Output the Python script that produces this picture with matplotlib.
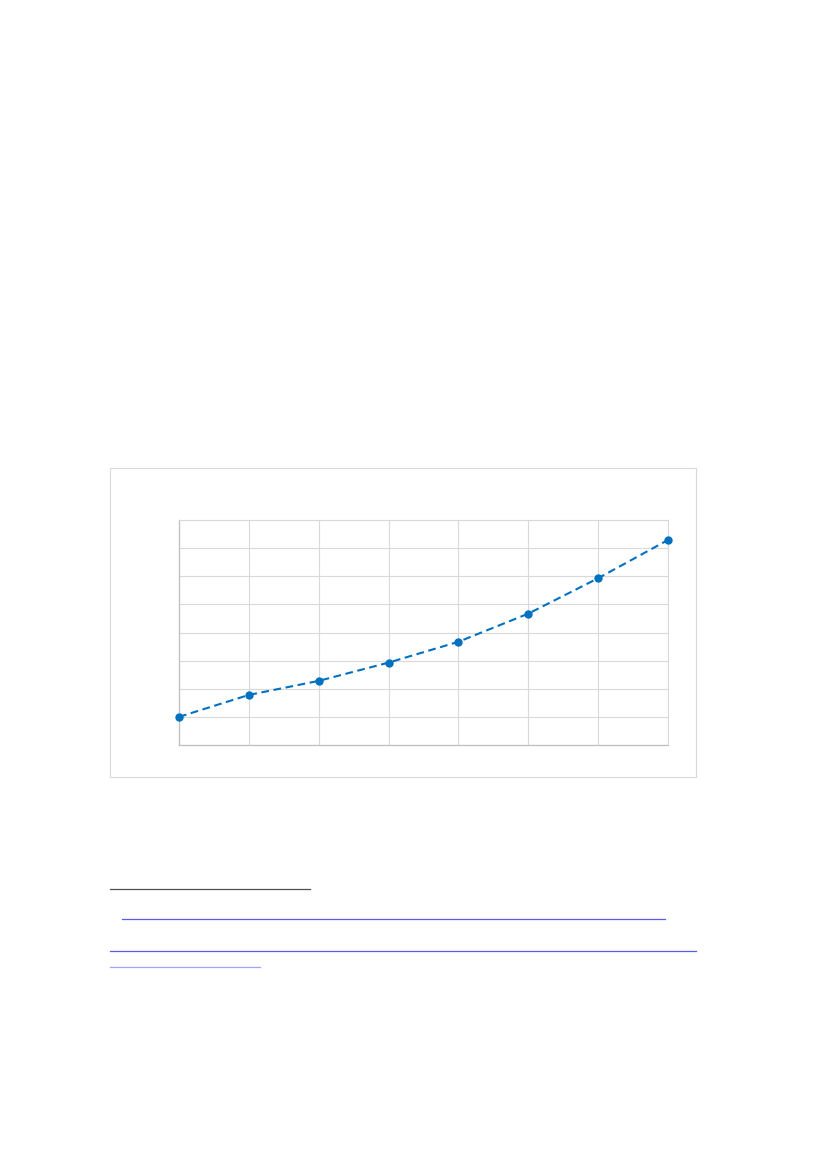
import matplotlib
matplotlib.use("Agg")
import matplotlib.pyplot as plt
from matplotlib.patches import Rectangle
from matplotlib.lines import Line2D

# data (no labels are shown in the reference)
categories = [1, 2, 3, 4, 5, 6, 7, 8]
values = [1.0, 1.78, 2.28, 2.93, 3.67, 4.67, 5.93, 7.29]
y_ticks = [0, 1, 2, 3, 4, 5, 6, 7, 8]

W, H = 827, 1169
fig = plt.figure(figsize=(W / 100, H / 100), dpi=100)
fig.patch.set_facecolor("white")


def fx(px):
    return px / W


def fy(py):
    return 1 - py / H


# chart frame
fig.patches.append(
    Rectangle((fx(110), fy(777)), fx(696) - fx(110), fy(468) - fy(777),
              transform=fig.transFigure, fill=False,
              edgecolor="#d9d9d9", linewidth=0.8)
)

ax = fig.add_axes([fx(179), fy(745), fx(668) - fx(179), fy(520) - fy(745)])
ax.plot(categories, values, color="#0070C0", linewidth=1.5,
        linestyle=(0, (3.7, 2.2)), marker="o", markersize=5, zorder=3,
        clip_on=False)

ax.set_xlim(categories[0], categories[-1])
ax.set_ylim(y_ticks[0], y_ticks[-1])
ax.set_xticks(categories)
ax.set_yticks(y_ticks)
ax.grid(True, color="#d9d9d9", linewidth=0.8)
ax.tick_params(length=0, labelleft=False, labelbottom=False)
for side in ["top", "right"]:
    ax.spines[side].set_color("#d9d9d9")
    ax.spines[side].set_linewidth(0.8)
for side in ["left", "bottom"]:
    ax.spines[side].set_color("#bfbfbf")
    ax.spines[side].set_linewidth(0.9)

# underline rules below the chart
rules = [
    (110, 310, 889, "#505050"),
    (122, 665, 919, "#5a5af0"),
    (110, 696, 951, "#5a5af0"),
    (110, 260, 967, "#a0a0ff"),
]
for x0, x1, y, c in rules:
    fig.lines.append(Line2D([fx(x0), fx(x1)], [fy(y), fy(y)],
                            transform=fig.transFigure, color=c, linewidth=0.9))

fig.savefig("out.png", dpi=100)
